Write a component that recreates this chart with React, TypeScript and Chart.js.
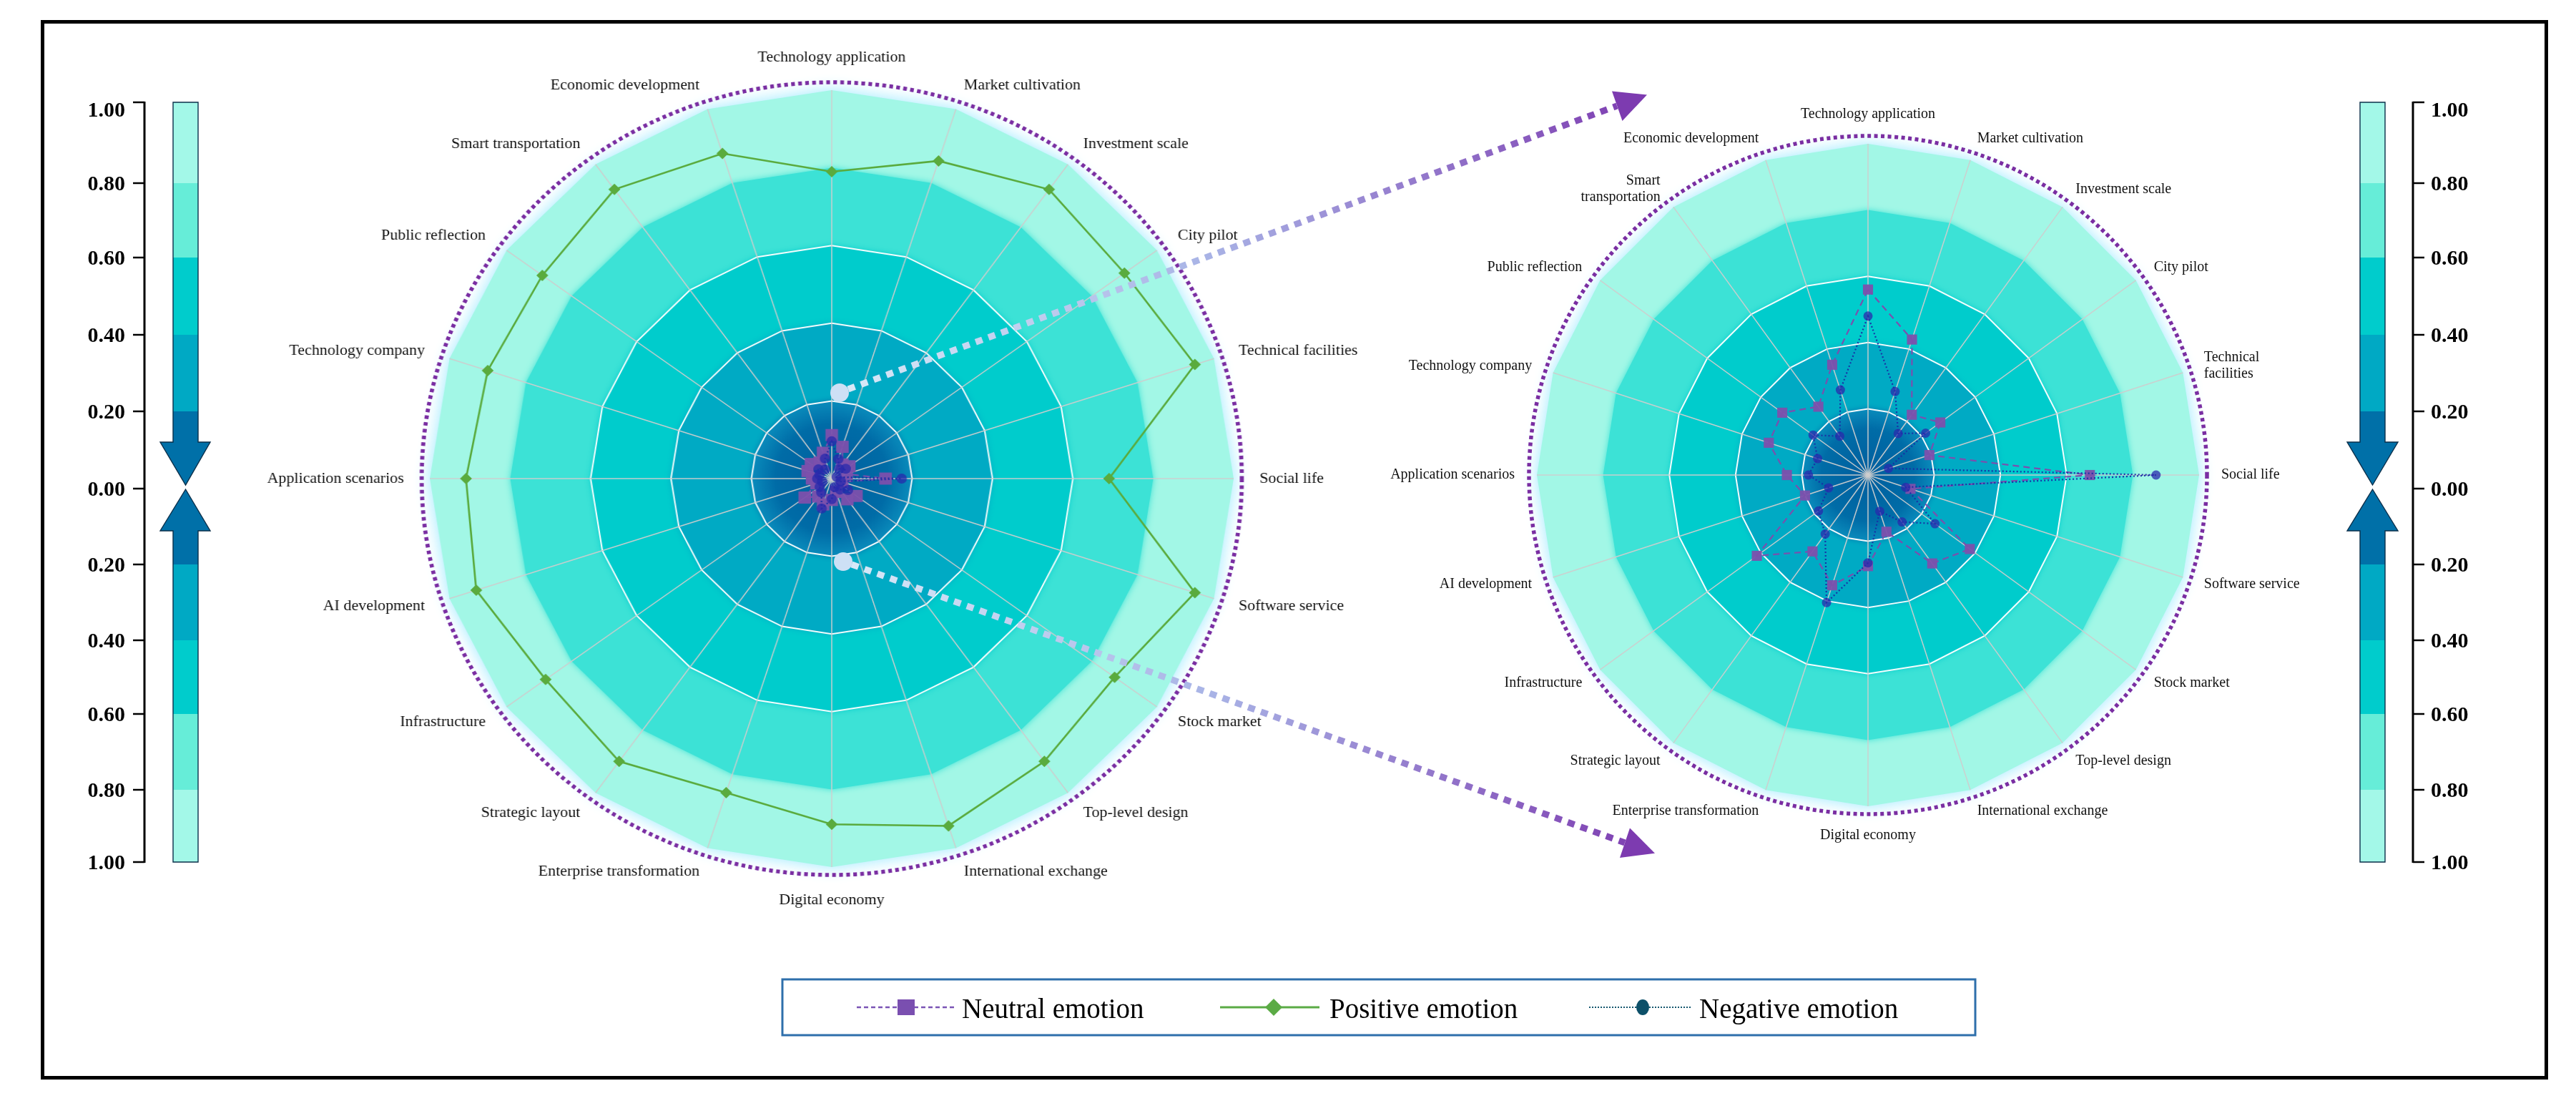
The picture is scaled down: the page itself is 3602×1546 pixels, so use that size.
import React, { useEffect, useRef } from "react";
import { Chart, registerables } from "chart.js";

Chart.register(...registerables);

// ---------------- DATA ----------------
const categories = [
  "Technology application",
  "Market cultivation",
  "Investment scale",
  "City pilot",
  "Technical facilities",
  "Social life",
  "Software service",
  "Stock market",
  "Top-level design",
  "International exchange",
  "Digital economy",
  "Enterprise transformation",
  "Strategic layout",
  "Infrastructure",
  "AI development",
  "Application scenarios",
  "Technology company",
  "Public reflection",
  "Smart transportation",
  "Economic development",
];

const positiveEmotion = [
  0.79, 0.86, 0.92, 0.9, 0.95, 0.69, 0.95, 0.87, 0.9, 0.94,
  0.89, 0.85, 0.9, 0.88, 0.93, 0.91, 0.9, 0.89, 0.92, 0.88,
];

const neutralEmotion = [
  0.112, 0.086, 0.045, 0.054, 0.039, 0.134, 0.027, 0.076, 0.066, 0.036,
  0.055, 0.07, 0.057, 0.083, 0.04, 0.049, 0.063, 0.064, 0.051, 0.07,
];

const negativeEmotion = [
  0.096, 0.053, 0.031, 0.043, 0.013, 0.174, 0.024, 0.05, 0.035, 0.023,
  0.053, 0.081, 0.044, 0.037, 0.025, 0.036, 0.032, 0.041, 0.029, 0.054,
];

const rightWrapped: Record<string, string[]> = {
  "Smart transportation": ["Smart", "transportation"],
  "Technical facilities": ["Technical", "facilities"],
};

const scaleTickLabels = ["1.00", "0.80", "0.60", "0.40", "0.20", "0.00", "0.20", "0.40", "0.60", "0.80", "1.00"];
const legendLabels = ["Neutral emotion", "Positive emotion", "Negative emotion"];
const bandFractions = [0.2, 0.4, 0.6, 0.8, 1.0];
const bandColors = ["#0070a8", "#00aac4", "#00cccc", "#3ce2d6", "#a2f7e6"];

const SERIF = "'Liberation Serif', 'Times New Roman', serif";

type RadarCfg = {
  width: number;
  height: number;
  cx: number;
  cy: number;
  radius: number;
  max: number;
  stretch: number;
  labels: (string | string[])[];
  fontSize: number;
  labelPad: number;
  ringGap: number;
  showPositive: boolean;
  squareR: number;
  circleR: number;
  diamondR: number;
};

function RadarPanel({ cfg, left, top }: { cfg: RadarCfg; left: number; top: number }) {
  const ref = useRef<HTMLCanvasElement>(null);

  useEffect(() => {
    const canvas = ref.current;
    if (!canvas) return;

    const decor = {
      id: "decor",
      afterLayout(chart: any) {
        const s = chart.scales.r;
        s.xCenter = cfg.cx;
        s.yCenter = cfg.cy;
        s.drawingArea = cfg.radius;
      },
      beforeDraw(chart: any) {
        const s = chart.scales.r;
        const ctx = chart.ctx;
        const n = chart.data.labels.length;
        ctx.save();
        for (let b = bandFractions.length - 1; b >= 0; b--) {
          const d = s.getDistanceFromCenterForValue(cfg.max * bandFractions[b]);
          ctx.beginPath();
          for (let j = 0; j < n; j++) {
            const p = s.getPointPosition(j, d);
            if (j === 0) ctx.moveTo(p.x, p.y);
            else ctx.lineTo(p.x, p.y);
          }
          ctx.closePath();
          if (b === bandFractions.length - 1) {
            ctx.shadowColor = "rgba(150,232,255,0.95)";
            ctx.shadowBlur = 22;
          } else {
            ctx.shadowColor = bandColors[b];
            ctx.shadowBlur = 8;
          }
          if (b === 0) {
            const g = ctx.createRadialGradient(s.xCenter, s.yCenter, 0, s.xCenter, s.yCenter, d);
            g.addColorStop(0, "#005e9e");
            g.addColorStop(0.7, "#006ca7");
            g.addColorStop(1, "#0a8cbc");
            ctx.fillStyle = g;
          } else {
            ctx.fillStyle = bandColors[b];
          }
          ctx.fill();
        }
        ctx.restore();
      },
      afterDraw(chart: any) {
        const s = chart.scales.r;
        const ctx = chart.ctx;
        const n = chart.data.labels.length;
        ctx.save();
        // dotted outer ring
        ctx.beginPath();
        ctx.arc(s.xCenter, s.yCenter, s.drawingArea + cfg.ringGap, 0, Math.PI * 2);
        ctx.setLineDash([5, 4.5]);
        ctx.lineWidth = 5.5;
        ctx.strokeStyle = "#7a2ea2";
        ctx.stroke();
        ctx.setLineDash([]);
        // point labels
        ctx.fillStyle = "#111";
        ctx.font = `${cfg.fontSize}px ${SERIF}`;
        ctx.textBaseline = "middle";
        const lineH = cfg.fontSize * 1.15;
        for (let j = 0; j < n; j++) {
          const lbl = cfg.labels[j];
          const lines = Array.isArray(lbl) ? lbl : [lbl];
          const angle = Math.round((j * 360) / n) % 360;
          const p = s.getPointPosition(j, s.drawingArea + cfg.labelPad);
          const h = (lines.length - 1) * lineH + cfg.fontSize;
          // y of the middle of the first line
          let y = p.y - h / 2 + cfg.fontSize / 2;
          if (angle === 0) y = p.y - h + cfg.fontSize / 2;
          else if (angle === 180) y = p.y + cfg.fontSize / 2;
          let align: CanvasTextAlign = "center";
          if (angle === 0 || angle === 180) align = "center";
          else if (angle < 180) align = "left";
          else align = "right";
          ctx.textAlign = align;
          lines.forEach((ln, k) => {
            ctx.save();
            ctx.translate(p.x, y + k * lineH);
            ctx.scale(1 / cfg.stretch, 1);
            ctx.fillText(ln, 0, 0);
            ctx.restore();
          });
        }
        ctx.restore();
      },
    };

    const datasets: any[] = [
      {
        label: "Negative emotion",
        data: negativeEmotion,
        borderColor: "rgba(25,45,165,0.95)",
        borderWidth: 2.2,
        borderDash: [2, 3],
        pointStyle: "circle",
        pointRadius: cfg.circleR,
        pointBackgroundColor: "rgba(40,42,172,0.75)",
        pointBorderWidth: 0,
        fill: false,
        order: 0,
      },
      {
        label: "Neutral emotion",
        data: neutralEmotion,
        borderColor: "#7b4fae",
        borderWidth: 2.2,
        borderDash: [9, 6],
        pointStyle: "rect",
        pointRadius: cfg.squareR,
        pointBackgroundColor: "rgba(124,80,172,0.95)",
        pointBorderWidth: 0,
        fill: false,
        order: 1,
      },
    ];
    if (cfg.showPositive) {
      datasets.push({
        label: "Positive emotion",
        data: positiveEmotion,
        borderColor: "#5aab3e",
        borderWidth: 2.6,
        pointStyle: "rectRot",
        pointRadius: cfg.diamondR,
        pointBackgroundColor: "#5aab3e",
        pointBorderWidth: 0,
        fill: false,
        order: 2,
      });
    }

    const chart = new Chart(canvas, {
      type: "radar",
      data: { labels: categories, datasets },
      options: {
        responsive: false,
        animation: false,
        devicePixelRatio: 1,
        events: [],
        layout: { padding: 0 },
        plugins: { legend: { display: false }, tooltip: { enabled: false } },
        elements: { line: { tension: 0 } },
        scales: {
          r: {
            min: 0,
            max: cfg.max,
            beginAtZero: true,
            ticks: { display: false, stepSize: cfg.max / 5 },
            pointLabels: { display: false },
            grid: {
              color: (c: any) => (c.index >= 1 && c.index <= 3 ? "rgba(255,255,255,0.95)" : "rgba(0,0,0,0)"),
              lineWidth: 2,
            },
            angleLines: { color: "rgba(205,205,205,0.95)", lineWidth: 1.5 },
          },
        },
      } as any,
      plugins: [decor as any],
    });
    return () => chart.destroy();
  }, []);

  return (
    <div
      style={{
        position: "absolute",
        left,
        top,
        width: cfg.width,
        height: cfg.height,
        transform: `scaleX(${cfg.stretch})`,
        transformOrigin: `${cfg.cx}px ${cfg.cy}px`,
      }}
    >
      <canvas ref={ref} width={cfg.width} height={cfg.height} style={{ display: "block" }} />
    </div>
  );
}

const tickY = [143, 256, 360, 468, 575, 683, 789, 895, 998, 1104, 1205];
const barColorsTop = ["#a3f8e8", "#66edd8", "#00cccc", "#00a9c4"];
const barColorsBottom = ["#00a9c4", "#00cccc", "#66edd8", "#a3f8e8"];
const DARK = "#0070a8";

function ColorBar({ x0, x1, hl, hr }: { x0: number; x1: number; hl: number; hr: number }) {
  const cx = (x0 + x1) / 2;
  const w = x1 - x0;
  return (
    <g>
      {barColorsTop.map((c, i) => (
        <rect key={"t" + i} x={x0} y={tickY[i]} width={w} height={tickY[i + 1] - tickY[i]} fill={c} />
      ))}
      <rect x={x0} y={575} width={w} height={44} fill={DARK} />
      <polygon points={`${hl},618 ${hr},618 ${cx},678`} fill={DARK} />
      <polygon points={`${cx},684 ${hr},742 ${hl},742`} fill={DARK} />
      <rect x={x0} y={741} width={w} height={48} fill={DARK} />
      {barColorsBottom.map((c, i) => (
        <rect key={"b" + i} x={x0} y={tickY[6 + i]} width={w} height={tickY[7 + i] - tickY[6 + i]} fill={c} />
      ))}
      <polygon
        points={`${x0},143 ${x1},143 ${x1},618 ${hr},618 ${cx},678 ${hl},618 ${x0},618`}
        fill="none"
        stroke="#0b2f4a"
        strokeWidth={1.4}
      />
      <polygon
        points={`${x0},1205 ${x1},1205 ${x1},742 ${hr},742 ${cx},684 ${hl},742 ${x0},742`}
        fill="none"
        stroke="#0b2f4a"
        strokeWidth={1.4}
      />
    </g>
  );
}

function ScaleAxis({ axisX, tickDir, labelX, anchor }: { axisX: number; tickDir: number; labelX: number; anchor: "start" | "end" }) {
  return (
    <g>
      <line x1={axisX} y1={tickY[0] - 1} x2={axisX} y2={tickY[10] + 1} stroke="#000" strokeWidth={3} />
      {tickY.map((y, i) => (
        <line key={"k" + i} x1={axisX} y1={y} x2={axisX + tickDir * 16} y2={y} stroke="#000" strokeWidth={2.5} />
      ))}
      {scaleTickLabels.map((t, i) => (
        <text
          key={"l" + i}
          x={labelX}
          y={(i === 0 ? tickY[i] + 10 : tickY[i]) + 10}
          textAnchor={anchor}
          fontFamily={SERIF}
          fontWeight="bold"
          fontSize={30}
          fill="#000"
        >
          {t}
        </text>
      ))}
    </g>
  );
}

const leftCfg: RadarCfg = {
  width: 1640,
  height: 1240,
  cx: 820,
  cy: 620,
  radius: 543,
  max: 1,
  stretch: 1.035,
  labels: categories,
  fontSize: 22,
  labelPad: 35,
  ringGap: 11,
  showPositive: true,
  squareR: 12,
  circleR: 7,
  diamondR: 8,
};

const rightCfg: RadarCfg = {
  width: 1500,
  height: 1150,
  cx: 750,
  cy: 575,
  radius: 463,
  max: 0.2,
  stretch: 1,
  labels: categories.map((c) => rightWrapped[c] || c),
  fontSize: 20,
  labelPad: 31,
  ringGap: 11,
  showPositive: false,
  squareR: 10,
  circleR: 6.5,
  diamondR: 8,
};

export default function App() {
  return (
    <div
      style={{
        position: "absolute",
        left: 0,
        top: 0,
        width: 3602,
        height: 1546,
        background: "#fff",
        overflow: "hidden",
      }}
    >
      <div
        style={{
          position: "absolute",
          left: 57,
          top: 28,
          width: 3506,
          height: 1481,
          border: "5px solid #000",
          boxSizing: "border-box",
        }}
      />
      <RadarPanel cfg={leftCfg} left={1163 - 820} top={669 - 620} />
      <RadarPanel cfg={rightCfg} left={2612 - 750} top={664 - 575} />
      <svg
        width={3602}
        height={1546}
        style={{ position: "absolute", left: 0, top: 0, pointerEvents: "none" }}
      >
        <defs>
          <linearGradient id="gUp" gradientUnits="userSpaceOnUse" x1={1174} y1={549} x2={2303} y2={132}>
            <stop offset="0" stopColor="#d8eaf8" />
            <stop offset="0.45" stopColor="#a9b4e6" />
            <stop offset="1" stopColor="#7d3bb0" />
          </linearGradient>
          <linearGradient id="gDn" gradientUnits="userSpaceOnUse" x1={1179} y1={785} x2={2314} y2={1193}>
            <stop offset="0" stopColor="#d8eaf8" />
            <stop offset="0.45" stopColor="#a9b4e6" />
            <stop offset="1" stopColor="#7d3bb0" />
          </linearGradient>
        </defs>

        {/* side colour scales */}
        <ColorBar x0={242} x1={277} hl={224} hr={294} />
        <ScaleAxis axisX={202} tickDir={-1} labelX={175} anchor="end" />
        <ColorBar x0={3300} x1={3335} hl={3282} hr={3353} />
        <ScaleAxis axisX={3374} tickDir={1} labelX={3399} anchor="start" />

        {/* zoom arrows */}
        <line x1={1186} y1={544} x2={2261} y2={148} stroke="url(#gUp)" strokeWidth={9} strokeDasharray="10 9" />
        <polygon points="2303,132.5 2254,127.6 2268.5,168.9" fill="#7d3bb0" />
        <circle cx={1174} cy={549} r={13} fill="#cde0f5" />
        <line x1={1191} y1={789} x2={2272} y2={1178} stroke="url(#gDn)" strokeWidth={9} strokeDasharray="10 9" />
        <polygon points="2314,1192.8 2265,1199 2279,1157.5" fill="#7d3bb0" />
        <circle cx={1179} cy={785} r={13} fill="#cde0f5" />

        {/* legend */}
        <rect x={1094} y={1369} width={1668} height={78} fill="#fff" stroke="#2e6fab" strokeWidth={3} />
        <line x1={1198} y1={1408} x2={1337} y2={1408} stroke="#7b55b5" strokeWidth={2.5} strokeDasharray="6 4" />
        <rect x={1255} y={1397} width={24} height={22} fill="#7a4fb0" />
        <text x={1345} y={1423} fontFamily={SERIF} fontSize={39} fill="#000">
          {legendLabels[0]}
        </text>
        <line x1={1706} y1={1408} x2={1845} y2={1408} stroke="#5bab45" strokeWidth={3} />
        <polygon points="1781,1396 1793,1408 1781,1420 1769,1408" fill="#5bab45" />
        <text x={1859} y={1423} fontFamily={SERIF} fontSize={39} fill="#000">
          {legendLabels[1]}
        </text>
        <line x1={2222} y1={1408} x2={2365} y2={1408} stroke="#14566e" strokeWidth={2} strokeDasharray="2 2" />
        <ellipse cx={2297} cy={1408} rx={9} ry={11} fill="#0d5069" />
        <text x={2376} y={1423} fontFamily={SERIF} fontSize={39} fill="#000">
          {legendLabels[2]}
        </text>
      </svg>
    </div>
  );
}
